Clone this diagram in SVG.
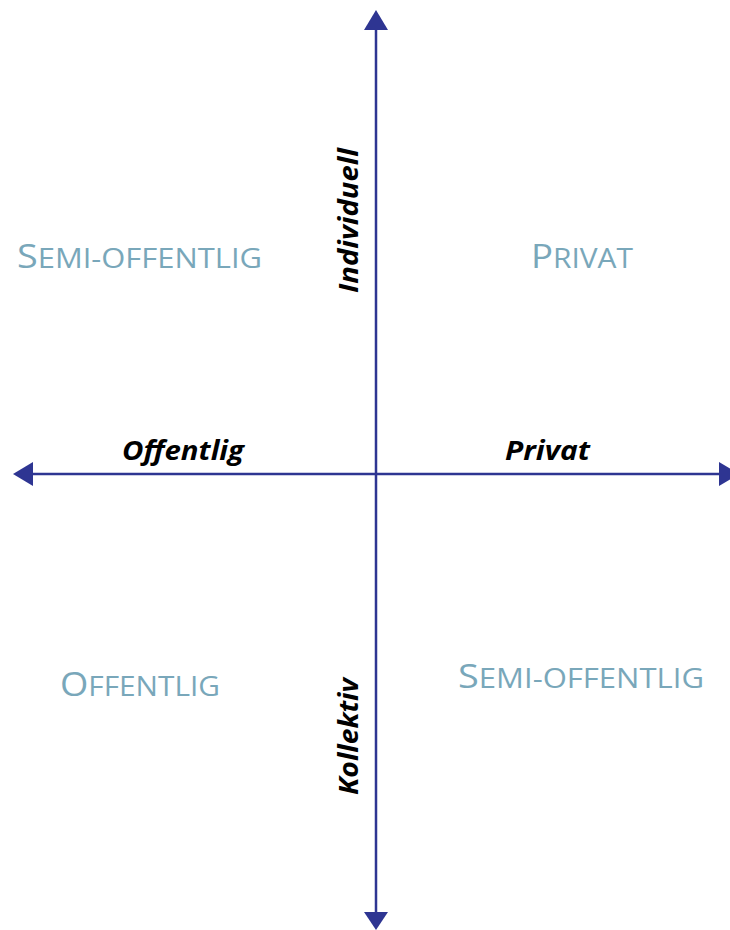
<svg xmlns="http://www.w3.org/2000/svg" width="730" height="930" viewBox="0 0 730 930">
  <style>
    .axis { stroke: #2E3592; stroke-width: 2.5; fill: none; }
    .head { fill: #2E3592; }
    .zone { font-family: "Open Sans", "Noto Sans", sans-serif; fill: #79A7BA; }
    .zone .big { font-size: 33px; }
    .zone .small { font-size: 27px; }
    .dim { font-family: "Open Sans", "Noto Sans", sans-serif; font-size: 26px; font-weight: bold; font-style: italic; fill: #000; }
  </style>
  <rect width="730" height="930" fill="#ffffff"/>

  <!-- axes -->
  <g id="connectors">
    <line class="axis" x1="376" y1="28" x2="376" y2="912"/>
    <line class="axis" x1="32" y1="474" x2="720" y2="474"/>
    <polygon class="head" points="376,10 364,30 388,30"/>
    <polygon class="head" points="376,930 364,912 388,912"/>
    <polygon class="head" points="13,474 33,462 33,486"/>
    <polygon class="head" points="739,474 719,462 719,486"/>
  </g>

  <!-- axis labels -->
  <g id="label-individuell">
    <text class="dim" transform="translate(358,293) rotate(-90)" textLength="145" lengthAdjust="spacingAndGlyphs">Individuell</text>
  </g>
  <g id="label-kollektiv">
    <text class="dim" transform="translate(358,795) rotate(-90)" textLength="117" lengthAdjust="spacingAndGlyphs">Kollektiv</text>
  </g>
  <g id="label-offentlig">
    <text class="dim" x="122" y="460" textLength="122" lengthAdjust="spacingAndGlyphs">Offentlig</text>
  </g>
  <g id="label-privat">
    <text class="dim" x="505" y="460" textLength="85" lengthAdjust="spacingAndGlyphs">Privat</text>
  </g>

  <!-- quadrant names -->
  <g id="quadrant-semi-offentlig-top">
    <text class="zone" x="17" y="268" textLength="245" lengthAdjust="spacingAndGlyphs"><tspan class="big">S</tspan><tspan class="small">EMI-OFFENTLIG</tspan></text>
  </g>
  <g id="quadrant-privat">
    <text class="zone" x="531" y="268" textLength="102" lengthAdjust="spacingAndGlyphs"><tspan class="big">P</tspan><tspan class="small">RIVAT</tspan></text>
  </g>
  <g id="quadrant-offentlig">
    <text class="zone" x="60" y="696" textLength="160" lengthAdjust="spacingAndGlyphs"><tspan class="big">O</tspan><tspan class="small">FFENTLIG</tspan></text>
  </g>
  <g id="quadrant-semi-offentlig-bottom">
    <text class="zone" x="458" y="688" textLength="246" lengthAdjust="spacingAndGlyphs"><tspan class="big">S</tspan><tspan class="small">EMI-OFFENTLIG</tspan></text>
  </g>
</svg>
